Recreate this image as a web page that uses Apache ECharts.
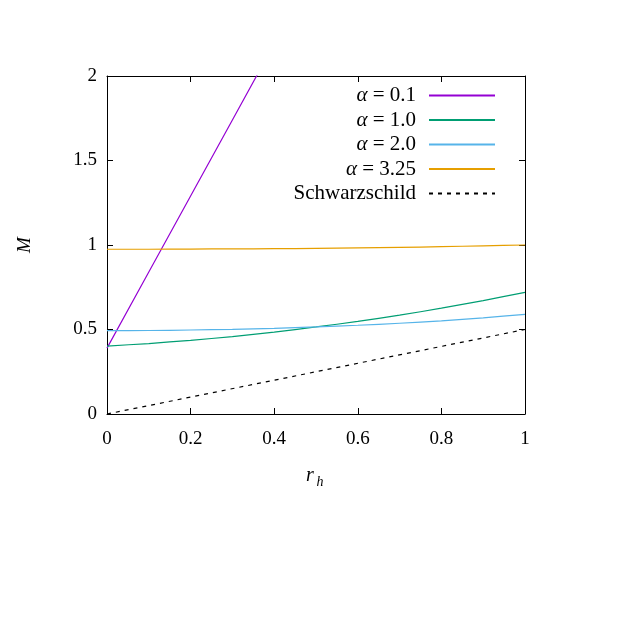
<!DOCTYPE html>
<html>
<head>
<meta charset="utf-8">
<script src="https://cdn.jsdelivr.net/npm/echarts@6/dist/echarts.min.js"></script>
<style>
  html, body { margin: 0; padding: 0; background: #fff; }
  #main { width: 630px; height: 630px; }
</style>
</head>
<body>
<div id="main"></div>
<script>
// r_h values and M
const rhPurple = [0, 0.1, 0.2, 0.3, 0.4];
const mPurple = [0.39, 0.84, 1.29, 1.74, 2.19];

const rhCurve = [0, 0.1, 0.2, 0.3, 0.4, 0.5, 0.6, 0.7, 0.8, 0.9, 1];
const mGreen = [0.402, 0.417, 0.436, 0.458, 0.485, 0.515, 0.548, 0.585, 0.626, 0.671, 0.72];
const mBlue = [0.493, 0.494, 0.497, 0.501, 0.507, 0.515, 0.525, 0.537, 0.551, 0.569, 0.59];
const mOrange = [0.975, 0.975, 0.976, 0.977, 0.978, 0.98, 0.983, 0.986, 0.99, 0.995, 1.0];

const rhSchw = [0, 1];
const mSchw = [0, 0.5];

const seriesNames = ['α = 0.1', 'α = 1.0', 'α = 2.0', 'α = 3.25', 'Schwarzschild'];
const seriesColors = ['#9400d3', '#009e73', '#56b4e9', '#e69f00', '#000000'];

const xTicks = [0, 0.2, 0.4, 0.6, 0.8, 1];
const yTicks = [0, 0.5, 1, 1.5, 2];

const font = '"Liberation Serif", "DejaVu Serif", serif';

const pairs = (xs, ys) => xs.map((x, i) => [x, ys[i]]);

const myChart = echarts.init(document.getElementById('main'));

const allData = [
  pairs(rhPurple, mPurple),
  pairs(rhCurve, mGreen),
  pairs(rhCurve, mBlue),
  pairs(rhCurve, mOrange),
  pairs(rhSchw, mSchw),
];

const series = seriesNames.map((name, i) => ({
  name,
  type: 'line',
  data: allData[i],
  symbol: 'none',
  smooth: i > 0 && i < 4 ? 0.2 : false,
  clip: true,
  color: seriesColors[i],
  lineStyle: {
    width: 1.2,
    color: seriesColors[i],
    type: i === 4 ? [4, 5] : 'solid',
  },
  animation: false,
}));

// one legend per row so the text lines up on the right
const legends = seriesNames.map((name, i) => ({
  data: [name],
  right: 134,
  top: 85 + i * 24.5,
  padding: 0,
  align: 'right',
  itemWidth: 66,
  itemHeight: 14,
  itemGap: 0,
  selectedMode: false,
  itemStyle: { opacity: 0 },
  formatter: (n) => {
    if (n.indexOf('α') === 0) return '{a|α}' + n.slice(1);
    return n;
  },
  textStyle: {
    fontFamily: font,
    fontSize: 21,
    color: '#000',
    padding: [0, 8, 0, 0],
    rich: {
      a: { fontFamily: font, fontSize: 21, fontStyle: 'italic', color: '#000' },
    },
  },
}));

const axisLine = { show: true, onZero: false, lineStyle: { color: '#000', width: 1 } };
const axisTick = { show: true, inside: true, length: 6, lineStyle: { color: '#000', width: 1 } };

const option = {
  backgroundColor: '#fff',
  animation: false,
  grid: { left: 107, right: 105, top: 76, bottom: 216 },
  legend: legends,
  xAxis: [
    {
      type: 'value',
      min: 0,
      max: 1,
      interval: 0.2,
      axisLine,
      axisTick,
      splitLine: { show: false },
      axisLabel: {
        margin: 16,
        fontFamily: font,
        fontSize: 19,
        color: '#000',
        formatter: (v) => (xTicks.includes(Math.round(v * 10) / 10) ? String(Math.round(v * 10) / 10) : ''),
      },
    },
    {
      type: 'value',
      position: 'top',
      min: 0,
      max: 1,
      interval: 0.2,
      axisLine,
      axisTick,
      splitLine: { show: false },
      axisLabel: { show: false },
    },
  ],
  yAxis: [
    {
      type: 'value',
      min: 0,
      max: 2,
      interval: 0.5,
      axisLine,
      axisTick,
      splitLine: { show: false },
      axisLabel: {
        margin: 10,
        fontFamily: font,
        fontSize: 19,
        color: '#000',
        formatter: (v) => (yTicks.includes(v) ? String(v) : ''),
      },
    },
    {
      type: 'value',
      position: 'right',
      min: 0,
      max: 2,
      interval: 0.5,
      axisLine,
      axisTick,
      splitLine: { show: false },
      axisLabel: { show: false },
    },
  ],
  graphic: [
    {
      type: 'text',
      x: 25,
      y: 245,
      rotation: Math.PI / 2,
      style: {
        text: 'M',
        font: 'italic 19px ' + font,
        fill: '#000',
        align: 'center',
        verticalAlign: 'middle',
      },
    },
    {
      type: 'text',
      x: 310,
      y: 476,
      style: {
        text: 'r',
        font: 'italic 20px ' + font,
        fill: '#000',
        align: 'center',
        verticalAlign: 'middle',
      },
    },
    {
      type: 'text',
      x: 320,
      y: 482,
      style: {
        text: 'h',
        font: 'italic 14px ' + font,
        fill: '#000',
        align: 'center',
        verticalAlign: 'middle',
      },
    },
  ],
  series,
};

myChart.setOption(option);
</script>
</body>
</html>
